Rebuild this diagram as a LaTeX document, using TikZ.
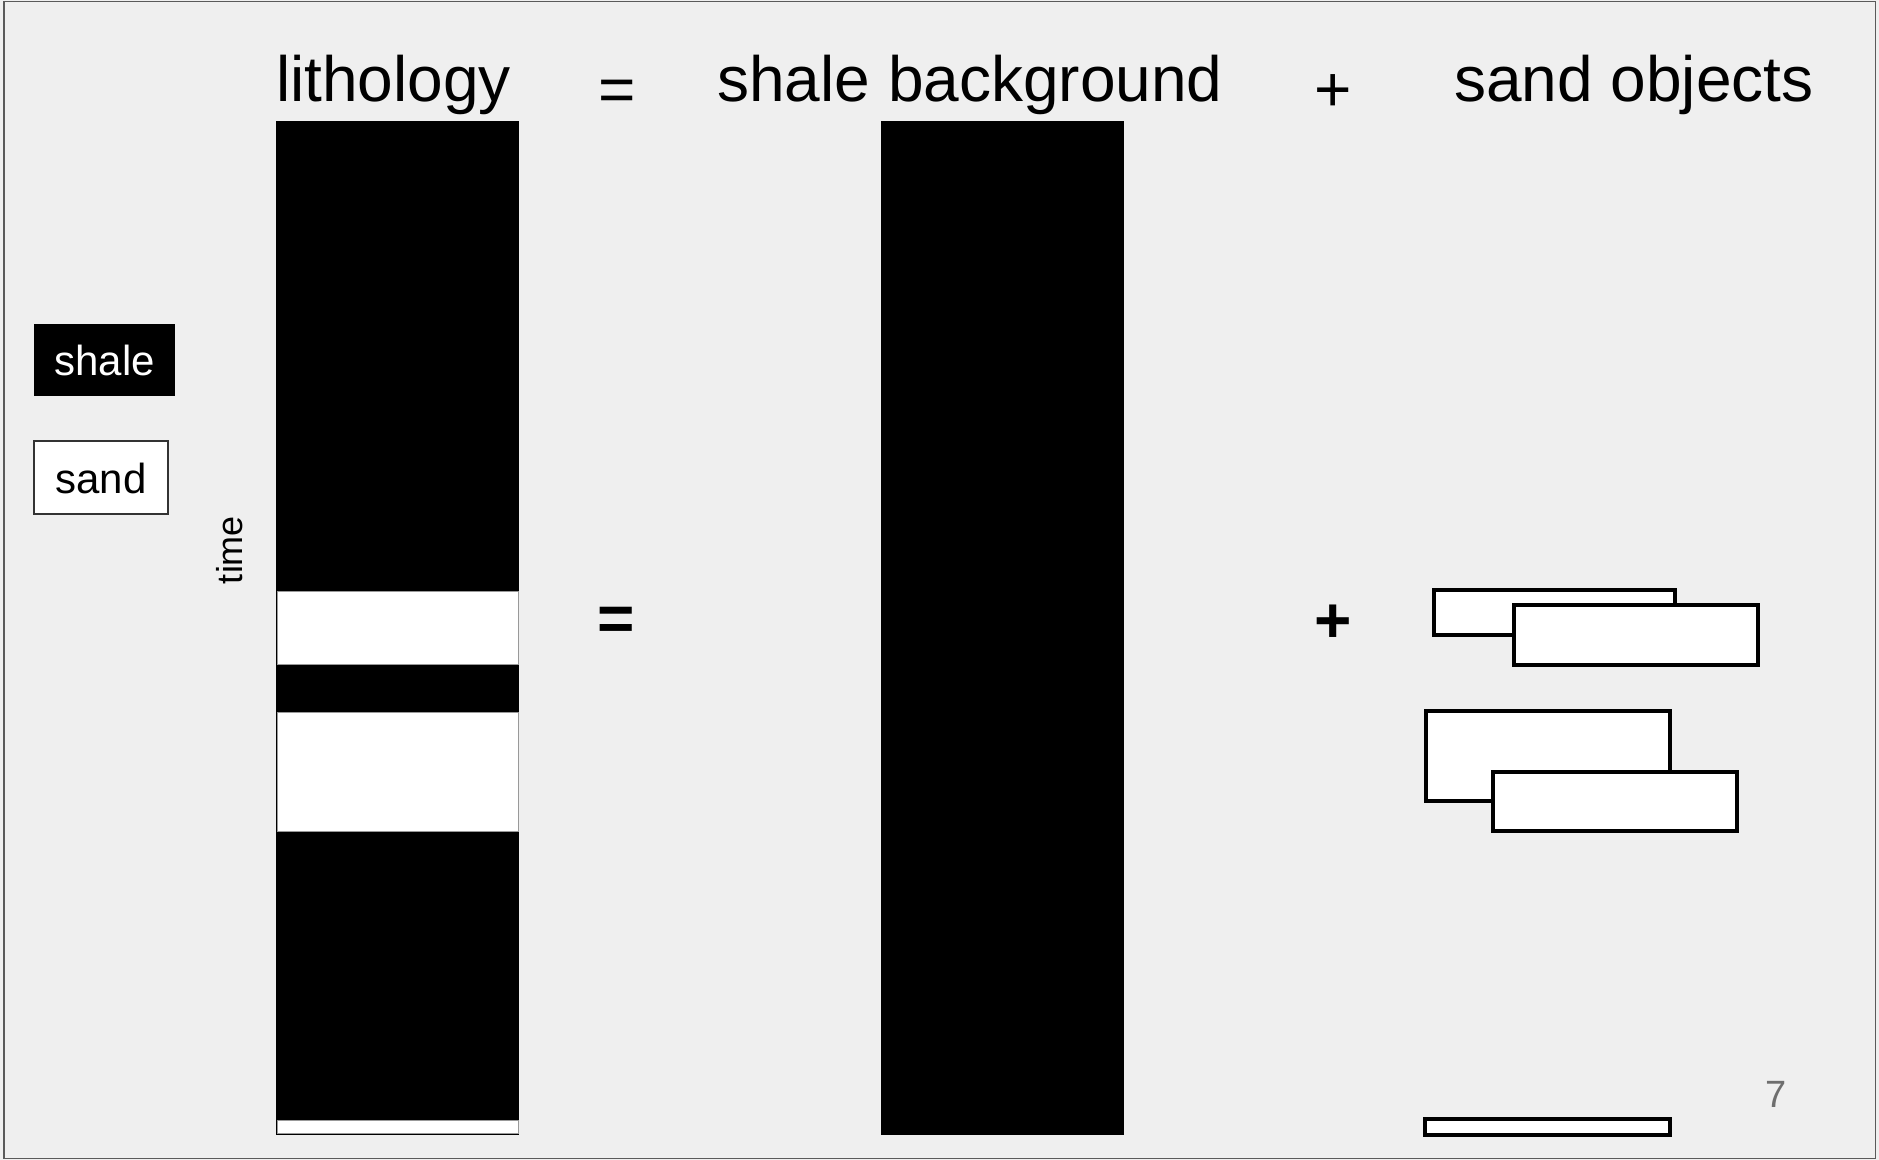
\documentclass[tikz,border=0pt]{standalone}
\usepackage{fontspec}
\setmainfont{Liberation Sans}
\definecolor{slidebg}{HTML}{EFEFEF}
\definecolor{framegray}{HTML}{5A5A5A}
\definecolor{pagegray}{HTML}{6E6E6E}
\begin{document}
\begin{tikzpicture}[x=0.5pt,y=-0.5pt,
  title/.style={anchor=base,inner sep=0pt,font=\fontsize{32}{38}\selectfont},
  opsign/.style={anchor=center,inner sep=0pt,font=\bfseries\fontsize{32}{38}\selectfont},
  legendtext/.style={anchor=center,inner sep=0pt,font=\fontsize{21}{25}\selectfont},
  sandband/.style={fill=white,draw=gray!80,line width=0.5pt},
  sandobj/.style={fill=white,draw=black,line width=1.9pt},
  shalecol/.style={fill=black}]
  % slide background and frame
  \useasboundingbox (0,0) rectangle (1879,1160);
  \fill[slidebg] (0,0) rectangle (1879,1160);
  \draw[framegray,line width=0.75pt] (4,1.5) rectangle (1875.5,1158.5);

  % headings
  \node[title] (tlith) at (393.6,102) {lithology};
  \node[title] (teq) at (617,112) {=};
  \node[title] (tshale) at (970,102) {shale background};
  \node[title] (tplus) at (1333,112) {+};
  \node[title] (tsand) at (1634,102) {sand objects};

  % legend
  \fill[black] (34,324) rectangle (175,396);
  \node[legendtext,text=white] (lshale) at (104.5,360) {shale};
  \draw[fill=white,draw=black!80,line width=0.6pt] (34,441) rectangle (168,514);
  \node[legendtext] (lsand) at (101,478) {sand};

  % time axis label
  \node[anchor=base,inner sep=0pt,rotate=90,font=\fontsize{18}{22}\selectfont] (ttime) at (242,550) {time};

  % lithology column: shale with sand beds
  \fill[shalecol] (276,121) rectangle (519,1135);
  \draw[sandband] (277,591) rectangle (518,664);
  \draw[sandband] (277,712) rectangle (518,831);
  \draw[sandband] (277,1120) rectangle (518,1133);

  % shale background column
  \fill[shalecol] (881,121) rectangle (1124,1135);

  % operators
  \node[opsign] (meq) at (616,624) {=};
  \node[opsign] (mplus) at (1333,624) {+};

  % sand objects
  \draw[sandobj] (1434,590) rectangle (1675,635);
  \draw[sandobj] (1514,605) rectangle (1758,665);
  \draw[sandobj] (1426,711) rectangle (1670,801);
  \draw[sandobj] (1493,772) rectangle (1737,831);
  \draw[sandobj] (1425,1119) rectangle (1670,1135);

  % page number
  \node[anchor=base,inner sep=0pt,text=pagegray,font=\fontsize{19}{23}\selectfont] (pnum) at (1776,1107) {7};
\end{tikzpicture}
\end{document}
